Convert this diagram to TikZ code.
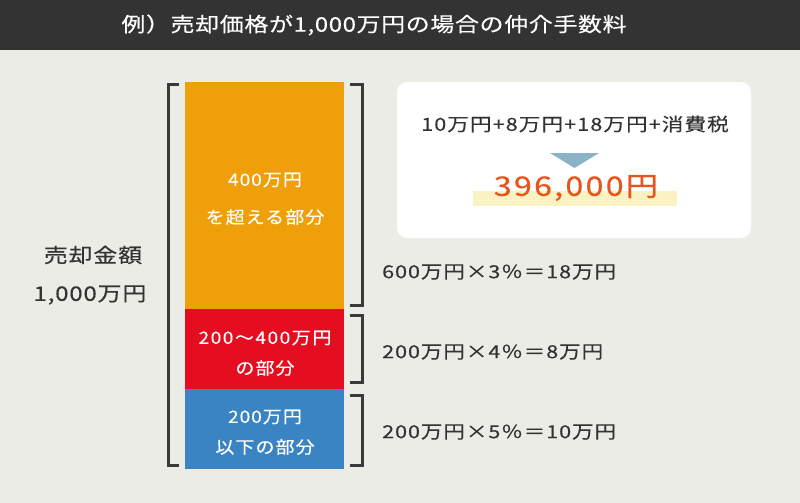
\documentclass[tikz,border=0pt]{standalone}
\usepackage{fontspec}
\setmainfont{Noto Sans CJK JP}
\newfontfamily\jp[FakeStretch=1.12,LetterSpace=6,FakeBold=0.3]{Noto Sans CJK JP}
\newfontfamily\jpr[FakeStretch=1.12,LetterSpace=9,FakeBold=0.3]{Noto Sans CJK JP}
\newfontfamily\jpc[FakeStretch=1.2,LetterSpace=5,FakeBold=0.3]{Noto Sans CJK JP}
\newfontfamily\jps[FakeStretch=1.2,LetterSpace=6,FakeBold=0.3]{Noto Sans CJK JP}
\newfontfamily\jpl[FakeStretch=1.2,LetterSpace=4,FakeBold=0.3]{Noto Sans CJK JP}
\newfontfamily\jpn[FakeStretch=1.2,LetterSpace=8,FakeBold=0.3]{Noto Sans CJK JP}
\newfontfamily\jpt[FakeStretch=1.2,LetterSpace=3,FakeBold=0.3]{Noto Sans CJK JP}
\definecolor{bgc}{HTML}{ECECE7}
\definecolor{barc}{HTML}{333333}
\definecolor{orc}{HTML}{EE9F0A}
\definecolor{redc}{HTML}{E50E20}
\definecolor{bluc}{HTML}{3A84C3}
\definecolor{brkc}{HTML}{3A3A3A}
\definecolor{tric}{HTML}{8AB3C8}
\definecolor{resc}{HTML}{E8541A}
\definecolor{hlc}{HTML}{FBF2C4}
\definecolor{txtc}{HTML}{333333}
\tikzset{
  seg/.style={draw=none,minimum width=159pt,inner sep=0pt,outer sep=0pt},
  segtext/.style={text=white,font=\jp\fontsize{17}{20}\selectfont,inner sep=0pt,anchor=center},
  brk/.style={draw=brkc,line width=3pt},
  calc/.style={text=txtc,font=\jpc\fontsize{18}{22}\selectfont,inner sep=0pt,anchor=west},
  lab/.style={text=txtc,font=\jpl\fontsize{20}{24}\selectfont,inner sep=0pt,anchor=center}
}
\begin{document}
\begin{tikzpicture}[x=1pt,y=-1pt]
\useasboundingbox (0,0) rectangle (800,503);
\fill[bgc] (0,0) rectangle (800,503);
\fill[barc] (0,0) rectangle (800,50);
\node[text=white,font=\jpt\fontsize{20}{24}\selectfont,inner sep=0pt] (title) at (374,25) {例）売却価格が1,000万円の場合の仲介手数料};
% segments
\node[seg,fill=orc,minimum height=227pt] (sego) at (264.5,195.5) {};
\node[seg,fill=redc,minimum height=80pt] (segr) at (264.5,349) {};
\node[seg,fill=bluc,minimum height=80pt] (segb) at (264.5,429) {};
\node[segtext] (o1) at (265,180) {400万円};
\node[segtext] (o2) at (265,217) {を超える部分};
\node[segtext,font=\jpr\fontsize{17}{20}\selectfont] (r1) at (265,338) {200〜400万円};
\node[segtext] (r2) at (265,368) {の部分};
\node[segtext] (b1) at (265,417) {200万円};
\node[segtext] (b2) at (265,447) {以下の部分};
% brackets
\draw[brk] (179,84) -- (168,84) -- (168,465) -- (179,465);
\draw[brk] (350,84) -- (362,84) -- (362,305) -- (350,305);
\draw[brk] (350,315) -- (362,315) -- (362,382) -- (350,382);
\draw[brk] (350,395) -- (362,395) -- (362,465) -- (350,465);
% left label
\node[lab] (l1) at (93,255) {売却金額};
\node[lab] (l2) at (90,295) {1,000万円};
% calcs
\node[calc] (c1) at (382,272) {600万円×3％＝18万円};
\node[calc] (c2) at (382,352) {200万円×4％＝8万円};
\node[calc] (c3) at (382,432) {200万円×5％＝10万円};
% result box
\node[fill=white,rounded corners=10pt,minimum width=354pt,minimum height=156pt,inner sep=0pt] (res) at (574,160) {};
\node[text=txtc,font=\jps\fontsize{18}{22}\selectfont,inner sep=0pt] (sum) at (575,124) {10万円+8万円+18万円+消費税};
\fill[tric] (550,153) -- (599,153) -- (574.5,168) -- cycle;
\fill[hlc] (473,191) rectangle (677,206);
\node[text=resc,font=\jpn\fontsize{27}{30}\selectfont,inner sep=0pt] (total) at (576,188) {396,000円};
\end{tikzpicture}
\end{document}
